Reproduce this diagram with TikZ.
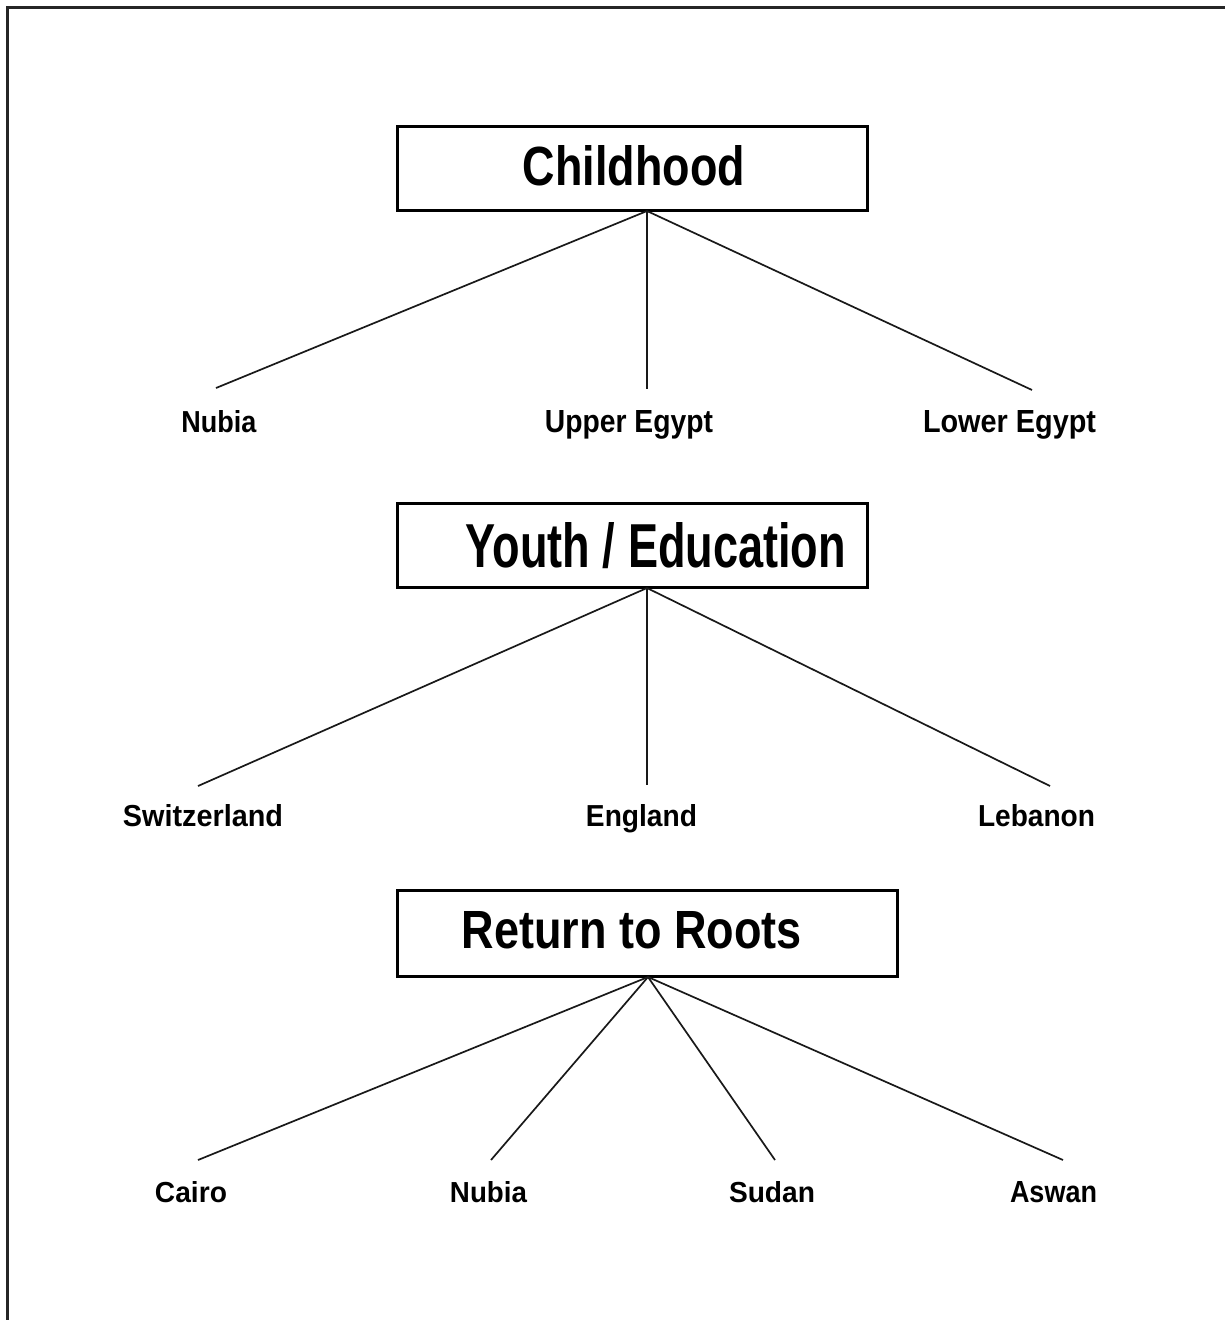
\documentclass[tikz,border=0pt]{standalone}
\usepackage{fontspec}
\setmainfont{Liberation Sans}
\usepackage{graphicx}
% set a word in bold, squeezed to a given width and cap height (in pt)
\newcommand\fitword[3]{\resizebox{#1pt}{#2pt}{\bfseries #3}}
\begin{document}
\begin{tikzpicture}[x=1pt,y=-1pt,
  stagebox/.style={draw, line width=2.2pt, inner sep=0pt, minimum width=#1, minimum height=84pt},
  title/.style={anchor=base, inner sep=0pt},
  place/.style={anchor=base, inner sep=0pt},
  branch/.style={line width=1.7pt, black!90}]
\useasboundingbox (0,0) rectangle (1225,1320);
\clip (0,0) rectangle (1225,1320);
% page frame, running off the right and bottom edges
\draw[line width=3pt, black!85] (7,1340) -- (7,7) -- (1240,7);

% ---------- Childhood ----------
\node[stagebox=470pt] (child) at (632.5,168.5) {};
\node[title] (childT) at (634,185) {\fitword{222}{40}{Childhood}};
\coordinate (hubA) at (647,211);
\node[place] (nubiaA) at (219,432) {\fitword{75}{22}{Nubia}};
\node[place] (upper) at (629,432) {\fitword{168}{22}{Upper Egypt}};
\node[place] (lower) at (1009.5,432) {\fitword{173}{22}{Lower Egypt}};
\coordinate (endA1) at (216,388);
\coordinate (endA2) at (647,389);
\coordinate (endA3) at (1032,390);
\draw[branch] (hubA) -- (endA1);
\draw[branch] (hubA) -- (endA2);
\draw[branch] (hubA) -- (endA3);

% ---------- Youth / Education ----------
\node[stagebox=470pt] (youth) at (632.5,545.5) {};
\node[title] (youthT) at (656,567) {\fitword{380}{45}{Youth / Education}};
\coordinate (hubB) at (647,588);
\node[place] (swiss) at (203,826) {\fitword{160}{22}{Switzerland}};
\node[place] (england) at (641.5,826) {\fitword{111}{22}{England}};
\node[place] (lebanon) at (1036.5,826) {\fitword{117}{22}{Lebanon}};
\coordinate (endB1) at (198,786);
\coordinate (endB2) at (647,785);
\coordinate (endB3) at (1050,786);
\draw[branch] (hubB) -- (endB1);
\draw[branch] (hubB) -- (endB2);
\draw[branch] (hubB) -- (endB3);

% ---------- Return to Roots ----------
\node[stagebox=500pt, minimum height=86pt] (roots) at (647.5,933.5) {};
\node[title] (rootsT) at (632,948) {\fitword{340}{37}{Return to Roots}};
\coordinate (hubC) at (648,977);
\node[place] (cairo) at (191,1202) {\fitword{72}{21}{Cairo}};
\node[place] (nubiaC) at (488.5,1202) {\fitword{77}{21}{Nubia}};
\node[place] (sudan) at (772,1202) {\fitword{86}{21}{Sudan}};
\node[place] (aswan) at (1053.5,1202) {\fitword{87}{21}{Aswan}};
\coordinate (endC1) at (198,1160);
\coordinate (endC2) at (491,1160);
\coordinate (endC3) at (775,1160);
\coordinate (endC4) at (1063,1160);
\draw[branch] (hubC) -- (endC1);
\draw[branch] (hubC) -- (endC2);
\draw[branch] (hubC) -- (endC3);
\draw[branch] (hubC) -- (endC4);
\end{tikzpicture}
\end{document}
